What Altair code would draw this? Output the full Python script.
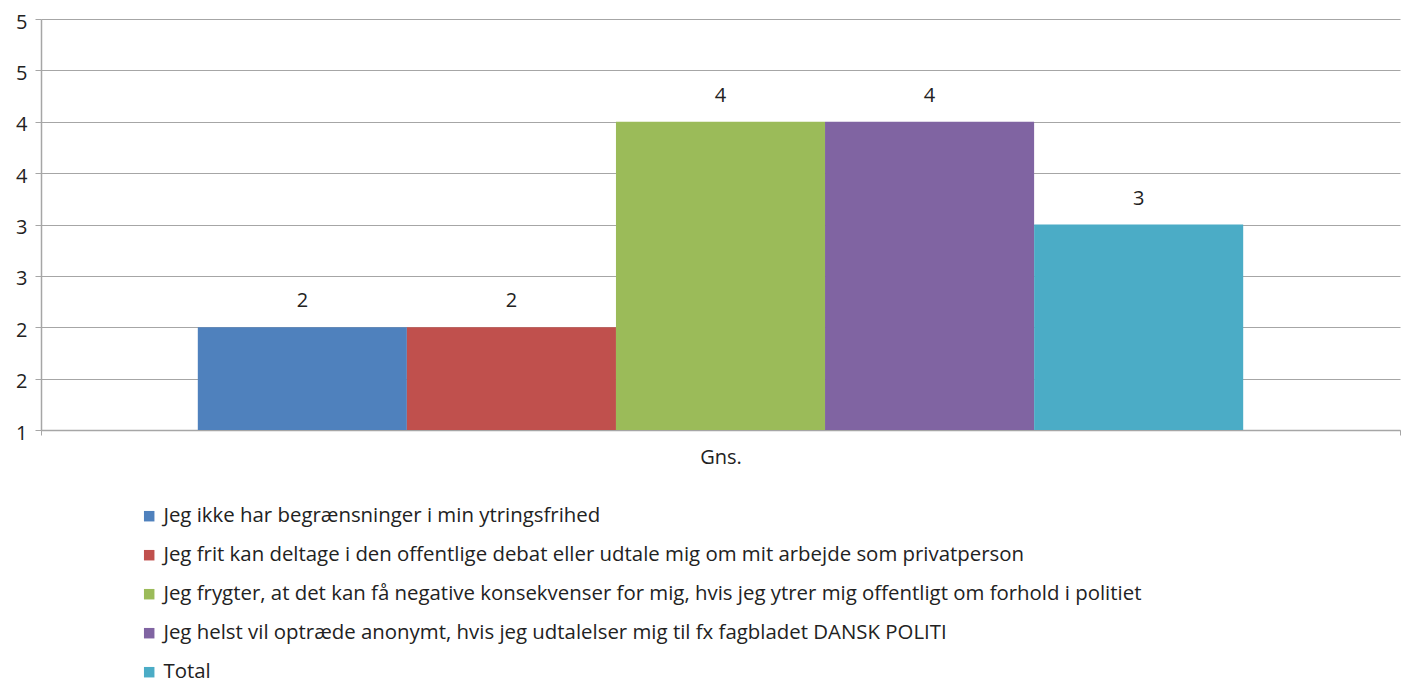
import altair as alt
import pandas as pd

categories = ["Gns."]
series = [
    "Jeg ikke har begrænsninger i min ytringsfrihed",
    "Jeg frit kan deltage i den offentlige debat eller udtale mig om mit arbejde som privatperson",
    "Jeg frygter, at det kan få negative konsekvenser for mig, hvis jeg ytrer mig offentligt om forhold i politiet",
    "Jeg helst vil optræde anonymt, hvis jeg udtalelser mig til fx fagbladet DANSK POLITI",
    "Total",
]
values = [2.0, 2.0, 4.0, 4.0, 3.0]
colors = ["#4F81BD", "#C0504D", "#9BBB59", "#8064A2", "#4BACC6"]
y_ticks = [1, 1.5, 2, 2.5, 3, 3.5, 4, 4.5, 5]

df = pd.DataFrame({
    "cat": categories * len(series),
    "series": series,
    "value": values,
    "order": list(range(len(series))),
})

FONT = "Open Sans"
FS = 20

x = alt.X("cat:N", title=None,
          scale=alt.Scale(paddingInner=0, paddingOuter=0),
          axis=alt.Axis(labelAngle=0, labelFontSize=FS, labelFont=FONT, labelColor="#222",
                        domainColor="#A6A6A6", tickColor="#A6A6A6", tickSize=5,
                        tickBand="extent", labelPadding=12, grid=False))
xoff = alt.XOffset("series:N", sort=series,
                   scale=alt.Scale(paddingInner=0, paddingOuter=0.75))
y = alt.Y("value:Q", title=None,
          scale=alt.Scale(domain=[1, 5], nice=False, zero=False),
          axis=alt.Axis(values=y_ticks, format=".0f", labelFontSize=FS, labelFont=FONT,
                        labelColor="#222", domainColor="#A6A6A6", tickColor="#A6A6A6",
                        gridColor="#A6A6A6", tickSize=6, labelPadding=8, labelOffset=3))

bars = alt.Chart(df).mark_bar(stroke=None).encode(
    x=x, xOffset=xoff, y=y, y2=alt.datum(1),
    color=alt.Color("series:N", sort=series,
                    scale=alt.Scale(domain=series, range=colors),
                    legend=alt.Legend(title=None, orient="none", legendX=98, legendY=487,
                                      direction="vertical", symbolType="square",
                                      symbolSize=110, symbolStrokeWidth=0,
                                      labelFont=FONT, labelFontSize=20.4, labelColor="#222",
                                      labelLimit=1200, rowPadding=18, symbolOffset=0,
                                      labelOffset=4)),
)

labels = alt.Chart(df).mark_text(font=FONT, fontSize=FS, color="#222", dy=-26,
                                 baseline="middle").encode(
    x=x, xOffset=xoff, y=y,
    text=alt.Text("value:Q", format=".0f"),
)

chart = alt.layer(bars, labels).properties(
    width=1359, height=411,
    autosize=alt.AutoSizeParams(type="none"),
    padding={"left": 33, "top": 11, "right": 2, "bottom": 256},
).configure_view(stroke=None).configure_axisX(domainWidth=1.5).configure_axisY(domainWidth=1.5)

chart.save("out.html", embed_options={"renderer": "svg", "actions": False})
